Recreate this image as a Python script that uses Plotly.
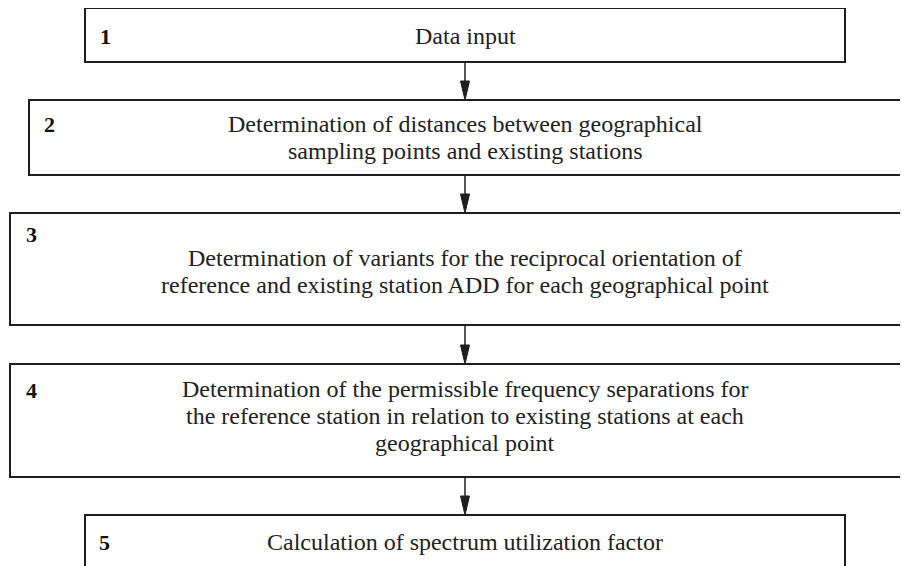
import plotly.graph_objects as go

# Flowchart content
step_numbers = ["1", "2", "3", "4", "5"]
step_lines = [
    ["Data input"],
    ["Determination of distances between geographical",
     "sampling points and existing stations"],
    ["Determination of variants for the reciprocal orientation of",
     "reference and existing station ADD for each geographical point"],
    ["Determination of the permissible frequency separations for",
     "the reference station in relation to existing stations at each",
     "geographical point"],
    ["Calculation of spectrum utilization factor"],
]
# Box geometry (pixel space of the screenshot)
box_left = [85, 29, 10, 10, 85]
box_right = [845, 901, 920, 920, 845]
box_top = [8, 100, 213, 364, 515]
box_bottom = [62, 175, 325, 477, 590]
text_center_y = [36, 137.5, 271.5, 416, 542]
line_gap = 27
num_x = [98, 42, 24, 24, 97]
num_y = [36, 124, 234, 390, 542]

W, H = 908, 566
OFF = 8  # page body margin
CX = 465
LINE = "#1e1e1e"
FONT = "Liberation Serif, Times New Roman, DejaVu Serif, serif"

fig = go.Figure()

shapes = []
annotations = []
for i in range(len(step_lines)):
    shapes.append(dict(type="rect", xref="x", yref="y",
                       x0=box_left[i], x1=box_right[i], y0=box_top[i], y1=box_bottom[i],
                       line=dict(color=LINE, width=2), fillcolor="white", layer="below"))
    n = len(step_lines[i])
    for j, ln in enumerate(step_lines[i]):
        yy = text_center_y[i] + (j - (n - 1) / 2) * line_gap
        annotations.append(dict(x=CX, y=yy, xref="x", yref="y", text=ln,
                                showarrow=False, xanchor="center", yanchor="middle",
                                font=dict(family=FONT, size=24, color="#222")))
    annotations.append(dict(x=num_x[i], y=num_y[i], xref="x", yref="y",
                            text="<b>" + step_numbers[i] + "</b>",
                            showarrow=False, xanchor="left", yanchor="middle",
                            font=dict(family=FONT, size=22, color="#111")))

# Connectors between consecutive boxes
for i in range(len(step_lines) - 1):
    y0 = box_bottom[i]
    y1 = box_top[i + 1]
    shapes.append(dict(type="line", xref="x", yref="y", x0=CX, x1=CX, y0=y0, y1=y1 - 12,
                       line=dict(color=LINE, width=1.5)))
    shapes.append(dict(type="path", xref="x", yref="y",
                       path=f"M {CX-4.5},{y1-19} L {CX+4.5},{y1-19} L {CX},{y1} Z",
                       fillcolor=LINE, line=dict(color=LINE, width=1)))

fig.update_layout(
    width=W, height=H,
    margin=dict(l=0, r=0, t=0, b=0),
    paper_bgcolor="white", plot_bgcolor="white",
    xaxis=dict(range=[OFF, W + OFF], visible=False, fixedrange=True),
    yaxis=dict(range=[H + OFF, OFF], visible=False, fixedrange=True),
    shapes=shapes, annotations=annotations,
    showlegend=False,
)

fig.write_html("out.html")
